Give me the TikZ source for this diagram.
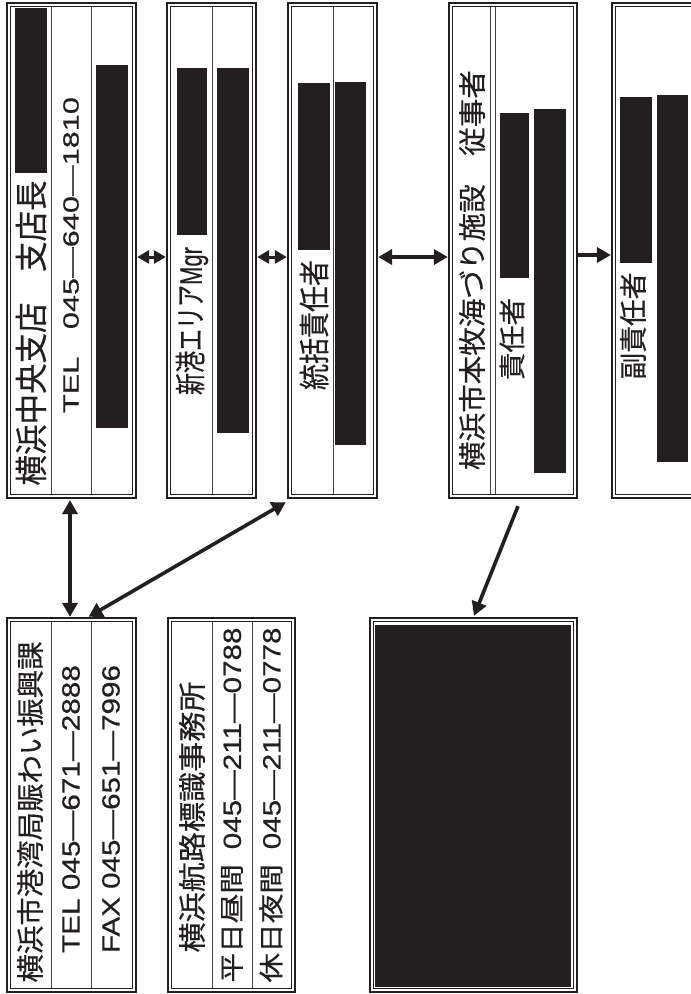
\documentclass[tikz,border=0pt]{standalone}
\usepackage{fontspec}
\setmainfont{Noto Sans CJK JP}[FakeBold=0.4]
\newfontfamily\lat{Liberation Sans}[FakeBold=0.4]
\usetikzlibrary{arrows.meta,fit}
\definecolor{ink}{HTML}{231F20}
\newcommand\sx[3]{\fontsize{#1pt}{#1pt}\selectfont\resizebox{#2pt}{\height}{#3}}
\begin{document}
\begin{tikzpicture}[x=1pt,y=-1pt,
  outerbox/.style={draw=ink, line width=2.3pt, inner sep=0pt, fill=white},
  innerline/.style={draw=ink, line width=1pt},
  divline/.style={draw=ink!85, line width=0.9pt},
  bar/.style={fill=ink},
  txt/.style={rotate=90, inner sep=0pt, text=ink},
  arr/.style={draw=ink, line width=3.6pt, -{Triangle[length=14pt,width=15pt]}},
  dblarr/.style={draw=ink, line width=3.6pt, {Triangle[length=14pt,width=15pt]}-{Triangle[length=14pt,width=15pt]}},
  smalldbl/.style={draw=ink, line width=3pt, {Triangle[length=12pt,width=13pt]}-{Triangle[length=12pt,width=13pt]}}]
\useasboundingbox (0,0) rectangle (691,994);
\clip (0,0) rectangle (691,994);
\fill[white] (0,0) rectangle (691,994);

% ---- top row boxes ----
\node[outerbox, fit={(7,3)(136,498)}] (b1) {};
\node[outerbox, fit={(167,3)(256,498)}] (b2) {};
\node[outerbox, fit={(288,3)(377,498)}] (b3) {};
\node[outerbox, fit={(449,3)(577,498)}] (b4) {};
\node[outerbox, fit={(612,3)(730,498)}] (b5) {};
% ---- bottom row boxes ----
\node[outerbox, fit={(7,618)(136,992)}] (b6) {};
\node[outerbox, fit={(168,618)(295,992)}] (b7) {};
\node[outerbox, fit={(370,618)(577,992)}] (b8) {};

\foreach \b in {b1,b2,b3,b4,b5,b6,b7,b8}
  \draw[innerline] ([shift={(4.5,4.5)}]\b.north west) rectangle ([shift={(-4.5,-4.5)}]\b.south east);

% dividers
\draw[divline] (51,7) -- (51,494);
\draw[divline] (91,7) -- (91,494);
\draw[divline] (212,7) -- (212,494);
\draw[divline] (333,7) -- (333,494);
\draw[divline] (490,7) -- (490,494);
\draw[divline] (495,7) -- (495,494);
\draw[divline] (51,622) -- (51,988);
\draw[divline] (91,622) -- (91,988);
\draw[divline] (212,622) -- (212,988);
\draw[divline] (252,622) -- (252,988);

% redaction bars
\fill[bar] (15,8) rectangle (47,173);
\fill[bar] (96,65) rectangle (128,428);
\fill[bar] (177,68) rectangle (207,235);
\fill[bar] (217,68) rectangle (249,433);
\fill[bar] (298,83) rectangle (330,250);
\fill[bar] (335,82) rectangle (366,445);
\fill[bar] (500,113) rectangle (529,278);
\fill[bar] (534,109) rectangle (566,473);
\fill[bar] (620,97) rectangle (652,263);
\fill[bar] (657,95) rectangle (688,462);
\fill[bar] (375,625) rectangle (571,987);

% texts
\node[txt] (t1) at (31,333) {\sx{33}{305}{横浜中央支店　支店長}};
\node[txt] (t2) at (71,255) {\sx{22}{316}{\lat TEL\hspace{0.9em}045—640—1810}};
\node[txt] (t3) at (192,321) {\sx{31}{148}{新港エリア{\lat Mgr}}};
\node[txt] (t4) at (314,325) {\sx{31}{130}{統括責任者}};
\node[txt] (t5) at (472,270) {\sx{28}{400}{横浜市本牧海づり施設　従事者}};
\node[txt] (t6) at (512,339) {\sx{27}{82}{責任者}};
\node[txt] (t7) at (633,326) {\sx{28}{107}{副責任者}};
\node[txt] (t8) at (30,812) {\sx{28}{341}{横浜市港湾局賑わい振興課}};
\node[txt] (t9) at (71,809) {\sx{25}{288}{\lat TEL 045—671—2888}};
\node[txt] (t10) at (111,809) {\sx{25}{288}{\lat FAX 045—651—7996}};
\node[txt] (t11) at (192,817) {\sx{28}{271}{横浜航路標識事務所}};
\node[txt] (t12) at (232,805) {\sx{25}{355}{平日昼間\hspace{0.5em}{\lat 045—211—0788}}};
\node[txt] (t13) at (271,805) {\sx{25}{355}{休日夜間\hspace{0.5em}{\lat 045—211—0778}}};

% connectors
\draw[smalldbl] ([yshift=-6.5pt]b1.east) -- ([yshift=-6.5pt]b2.west);
\draw[smalldbl] ([yshift=-6.5pt]b2.east) -- ([yshift=-6.5pt]b3.west);
\draw[dblarr] ([yshift=-6.5pt]b3.east) -- ([yshift=-6.5pt]b4.west);
\draw[arr] ([yshift=-4.5pt]b4.east) -- ([yshift=-4.5pt]b5.west);
\draw[dblarr] ([xshift=-1.5pt,yshift=-1pt]b1.south) -- ([xshift=-1.5pt]b6.north);
\draw[dblarr] ([xshift=-1pt,yshift=-3pt]b3.south west) -- ([xshift=17pt]b6.north);
\draw[arr] ([xshift=5pt,yshift=-7pt]b4.south) -- ([xshift=0.5pt,yshift=1pt]b8.north);
\end{tikzpicture}
\end{document}
